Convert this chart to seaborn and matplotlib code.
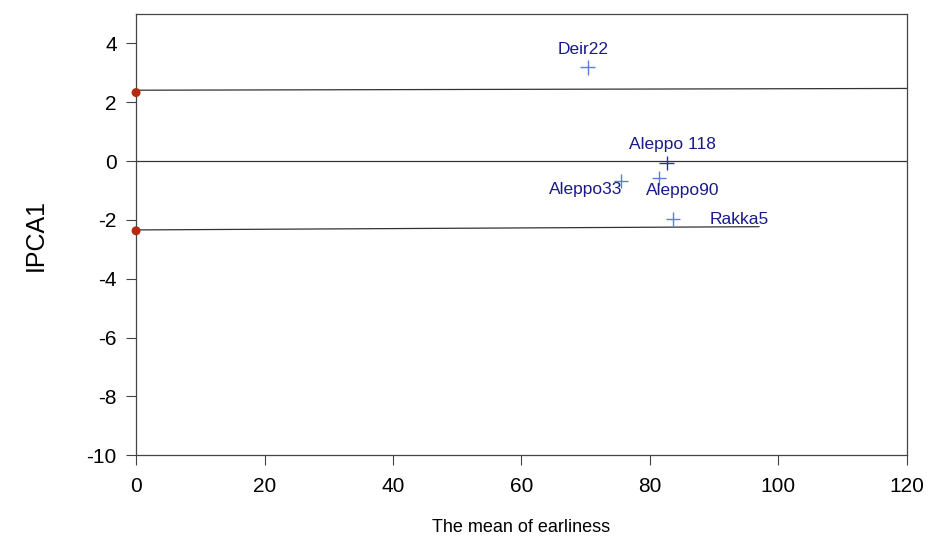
import numpy as np
import pandas as pd
import matplotlib
matplotlib.use("Agg")
import matplotlib.pyplot as plt
import seaborn as sns

# genotype positions (mean earliness vs IPCA1 score)
genotypes = ["Deir22", "Aleppo 118", "Aleppo33", "Aleppo90", "Rakka5"]
earliness = [70.3, 82.6, 75.5, 81.4, 83.6]
ipca1 = [3.19, -0.06, -0.68, -0.57, -1.98]

# environment lines: start (x=0) and end values
line_x_start = [0, 0, 0]
line_x_end = [120, 120, 97]
line_y_start = [2.41, 0.0, -2.34]
line_y_end = [2.47, 0.0, -2.23]

# red markers at origin of environment lines
env_x = [0, 0]
env_y = [2.33, -2.37]

sns.set_style("white")
plt.rcParams["font.family"] = ["Liberation Sans", "DejaVu Sans"]
plt.rcParams["axes.unicode_minus"] = False

fig = plt.figure(figsize=(9.32, 5.4), dpi=100)
ax = fig.add_axes([0.146, 0.157, 0.827, 0.817])

for xs, xe, ys, ye in zip(line_x_start, line_x_end, line_y_start, line_y_end):
    seg = pd.DataFrame({"x": [xs, xe], "y": [ys, ye]})
    sns.lineplot(data=seg, x="x", y="y", ax=ax, color="#333333", lw=0.9, sort=False)

df = pd.DataFrame({"g": genotypes, "x": earliness, "y": ipca1})
pal = {"Deir22": "#5a7fe0", "Aleppo 118": "#24389a", "Aleppo33": "#5a7fe0",
       "Aleppo90": "#5a7fe0", "Rakka5": "#5a7fe0"}
sns.scatterplot(data=df, x="x", y="y", hue="g", palette=pal, ax=ax, marker="+",
                s=110, linewidth=1.0, zorder=3, legend=False)

sns.scatterplot(x=env_x, y=env_y, ax=ax, color="#b52a10", s=42, edgecolor="none",
                zorder=4, clip_on=False)

# label offsets (points)
offsets = {
    "Deir22": (-3, 13, "center"),
    "Aleppo 118": (4, 13, "center"),
    "Aleppo33": (1, -6, "right"),
    "Aleppo90": (17, -9, "center"),
    "Rakka5": (26, 0, "left"),
}
for g, x, y in zip(genotypes, earliness, ipca1):
    dx, dy, ha = offsets[g]
    ax.annotate(g, (x, y), xytext=(dx, dy), textcoords="offset points",
                ha=ha, va="center", fontsize=12.5, color="#1a1a8c")

ax.set_xlim(0, 120)
ax.set_ylim(-10, 5)
ax.set_xticks([0, 20, 40, 60, 80, 100, 120])
ax.set_yticks([4, 2, 0, -2, -4, -6, -8, -10])
ax.tick_params(axis="both", direction="out", length=7, width=0.8, color="#444444",
               labelsize=15, labelcolor="black", bottom=True, left=True)
ax.tick_params(axis="x", pad=9)
ax.tick_params(axis="y", pad=7)

for sp in ax.spines.values():
    sp.set_color("#444444")
    sp.set_linewidth(0.9)

ax.set_xlabel("The mean of earliness", fontsize=13, color="black", labelpad=16)
ax.set_ylabel("IPCA1", fontsize=18, color="black", labelpad=28)

fig.savefig("out.png", dpi=100)
